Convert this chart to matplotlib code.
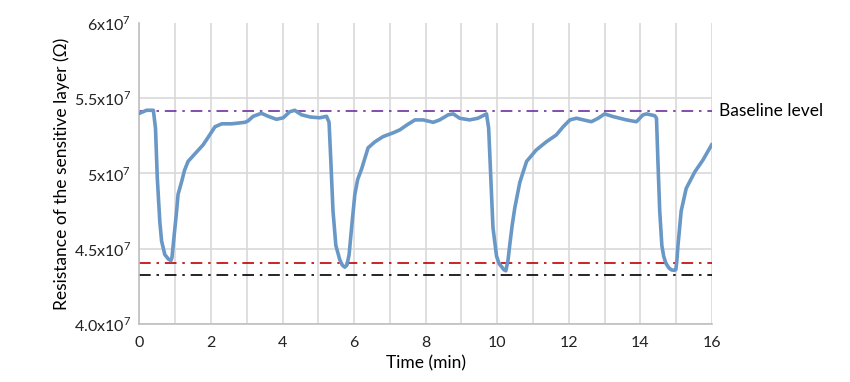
import matplotlib
matplotlib.use("Agg")
import matplotlib.pyplot as plt
import numpy as np

# resistance trace (time in min, resistance in 1e7 ohm)
time_min = [0.00, 0.20, 0.39, 0.45, 0.50, 0.57, 0.62, 0.71, 0.81, 0.88, 0.91, 0.96, 1.04,
            1.08, 1.18, 1.26, 1.36, 1.55, 1.78, 1.92, 2.11, 2.30, 2.58, 2.95, 3.04,
            3.18, 3.41, 3.60, 3.83, 4.02, 4.20, 4.34, 4.53, 4.78, 5.04, 5.23, 5.30,
            5.35, 5.41, 5.49, 5.60, 5.67, 5.74, 5.80, 5.86, 5.93, 6.02, 6.10, 6.21,
            6.39, 6.58, 6.81, 7.09, 7.28, 7.46, 7.70, 7.93, 8.21, 8.39, 8.63, 8.77,
            8.95, 9.23, 9.46, 9.70, 9.76, 9.82, 9.88, 9.98, 10.05, 10.12, 10.18, 10.24,
            10.30, 10.35, 10.42, 10.49, 10.63, 10.82, 11.09, 11.37, 11.65, 11.84,
            12.03, 12.21, 12.63, 12.82, 13.00, 13.24, 13.61, 13.89, 14.07, 14.17,
            14.40, 14.45, 14.49, 14.54, 14.60, 14.65, 14.71, 14.80, 14.87, 14.95,
            14.99, 15.02, 15.05, 15.14, 15.28, 15.52, 15.75, 15.99]
resistance = [5.40, 5.42, 5.42, 5.30, 4.97, 4.68, 4.55, 4.46, 4.43, 4.42, 4.44, 4.56, 4.75,
              4.86, 4.945, 5.02, 5.08, 5.13, 5.19, 5.24, 5.31, 5.33, 5.33, 5.34, 5.35,
              5.38, 5.40, 5.38, 5.36, 5.37, 5.41, 5.42, 5.39, 5.375, 5.37, 5.38, 5.34,
              5.08, 4.75, 4.52, 4.425, 4.39, 4.376, 4.39, 4.46, 4.64, 4.86, 4.96, 5.03,
              5.17, 5.21, 5.245, 5.27, 5.29, 5.32, 5.356, 5.356, 5.34, 5.356, 5.39, 5.396,
              5.367, 5.356, 5.367, 5.396, 5.30, 4.97, 4.64, 4.45, 4.40, 4.38, 4.36, 4.352,
              4.42, 4.525, 4.66, 4.77, 4.94, 5.08, 5.156, 5.21, 5.256, 5.31,
              5.356, 5.367, 5.344, 5.367, 5.396, 5.378, 5.356, 5.344, 5.389, 5.396,
              5.384, 5.367, 5.08, 4.75, 4.52, 4.45, 4.403, 4.37, 4.358, 4.355,
              4.36, 4.42, 4.52, 4.75, 4.90, 5.01, 5.09, 5.19]

baseline_level = 5.418
red_level = 4.405
black_level = 4.323

y_ticks = [4.0, 4.5, 5.0, 5.5, 6.0]
y_tick_labels = [r"4.0x10$^7$", r"4.5x10$^7$", r"5x10$^7$", r"5.5x10$^7$", r"6x10$^7$"]
x_ticks = [0, 2, 4, 6, 8, 10, 12, 14, 16]

plt.rcParams['font.family'] = ['Lato', 'DejaVu Sans']
plt.rcParams['mathtext.fontset'] = 'custom'
plt.rcParams['mathtext.rm'] = 'Lato'

fig = plt.figure(figsize=(8.5, 3.82), dpi=100)
ax = fig.add_axes([0.164, 0.1526, 0.6736, 0.7869])

scale = 1e7
t = np.array(time_min)
r = np.array(resistance) * scale

dash = (0, (7, 3.5, 1.5, 3.5))
ax.axhline(baseline_level * scale, color='#7030A0', lw=1.2, linestyle=dash, zorder=2)
ax.axhline(red_level * scale, color='#C00000', lw=1.2, linestyle=dash, zorder=2)
ax.axhline(black_level * scale, color='black', lw=1.2, linestyle=dash, zorder=2)

ax.plot(t, r, color='#6A98C6', lw=2.6, solid_joinstyle='round', zorder=3)

ax.set_xlim(0, 16)
ax.set_ylim(4.0 * scale, 6.0 * scale)
ax.set_xticks(x_ticks)
ax.set_xticks(range(0, 17), minor=True)
ax.set_yticks([v * scale for v in y_ticks])
ax.set_yticklabels(y_tick_labels)
ax.tick_params(axis='both', which='both', length=0, labelsize=11.5, colors='#222222')
ax.tick_params(axis='x', pad=9)
ax.tick_params(axis='y', pad=6)

ax.grid(True, which='both', axis='x', color='#D9D9D9', lw=1.2)
ax.grid(True, which='major', axis='y', color='#D9D9D9', lw=1.2)
ax.get_ygridlines()[-1].set_visible(False)
ax.set_axisbelow(True)

for s in ['top', 'right']:
    ax.spines[s].set_visible(False)
for s in ['left', 'bottom']:
    ax.spines[s].set_color('#BFBFBF')
    ax.spines[s].set_linewidth(1.2)

ax.set_xlabel("Time (min)", fontsize=12.5, labelpad=4)
ax.set_ylabel("Resistance of the sensitive layer (\u03a9)", fontsize=12.5, labelpad=3)

ax.text(16.2, baseline_level * scale, "Baseline level", fontsize=12.5, va='center', ha='left',
        clip_on=False)

fig.savefig("out.png", dpi=100)
